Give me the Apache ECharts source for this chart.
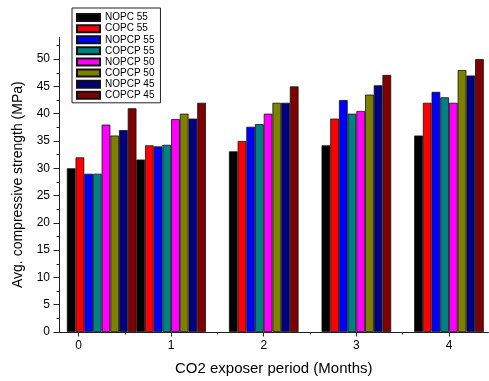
<!DOCTYPE html>
<html>
<head>
<meta charset="utf-8">
<script src="https://cdn.jsdelivr.net/npm/echarts@6/dist/echarts.min.js"></script>
<style>
html,body{margin:0;padding:0;background:#fff;}
#chart{width:489px;height:381px;}
</style>
</head>
<body>
<div id="chart"></div>
<script>
// CO2 exposure period (months); first group sits slightly right of 0 in the source
const periods = [0, 1, 2, 3, 4];
const groupX = [0.25, 1, 2, 3, 4];
const seriesNames = ['NOPC 55', 'COPC 55', 'NOPCP 55', 'COPCP 55', 'NOPCP 50', 'COPCP 50', 'NOPCP 45', 'COPCP 45'];
const nopc55  = [30.0, 31.6, 33.1, 34.2, 36.0];
const copc55  = [32.0, 34.2, 35.0, 39.1, 42.0];
const nopcp55 = [29.0, 34.0, 37.6, 42.5, 44.0];
const copcp55 = [29.0, 34.3, 38.1, 40.0, 43.0];
const nopcp50 = [38.0, 39.0, 40.0, 40.5, 42.0];
const copcp50 = [36.0, 40.0, 42.0, 43.5, 48.0];
const nopcp45 = [37.0, 39.1, 42.0, 45.2, 47.0];
const copcp45 = [41.0, 42.0, 45.0, 47.1, 50.0];
const yTicks = [0, 5, 10, 15, 20, 25, 30, 35, 40, 45, 50];
const yMinorTicks = [2.5, 7.5, 12.5, 17.5, 22.5, 27.5, 32.5, 37.5, 42.5, 47.5, 52.5];
const xMinorTicks = [0.5, 1.5, 2.5, 3.5];

const allValues = [nopc55, copc55, nopcp55, copcp55, nopcp50, copcp50, nopcp45, copcp45];
const colors = ['#000000', '#ff0000', '#0000ff', '#008080', '#ff00ff', '#808000', '#000080', '#800000'];

const FONT = 'Liberation Sans, Arial, sans-serif';
const X_MIN = -0.2106, X_MAX = 4.4266;

const series = allValues.map((vals, i) => ({
  name: seriesNames[i],
  type: 'bar',
  xAxisIndex: 0,
  yAxisIndex: 0,
  barWidth: 8.7,
  barGap: '0%',
  data: vals.map((v, j) => [groupX[j], v]),
  itemStyle: { color: colors[i], borderColor: '#111', borderWidth: 0.8 },
  emphasis: { disabled: true },
  animation: false
}));

const chart = echarts.init(document.getElementById('chart'), null, { renderer: 'canvas' });
chart.setOption({
  animation: false,
  backgroundColor: '#ffffff',
  textStyle: { fontFamily: FONT },
  grid: { left: 59, right: 0.5, top: 37.3, bottom: 46.5, containLabel: false },
  legend: {
    orient: 'vertical',
    left: 72, top: 8,
    padding: [4, 6, 2, 4],
    borderColor: '#222', borderWidth: 1,
    itemWidth: 23, itemHeight: 7, itemGap: 0,
    icon: 'rect',
    textStyle: { fontFamily: FONT, fontSize: 10, color: '#000', lineHeight: 11.1 },
    data: seriesNames
  },
  xAxis: [{
    type: 'value', min: X_MIN, max: X_MAX, position: 'bottom',
    name: 'CO2 exposer period (Months)', nameLocation: 'middle', nameGap: 29,
    nameTextStyle: { fontFamily: FONT, fontSize: 15, color: '#000' },
    axisLine: { show: true, onZero: false, lineStyle: { color: '#222', width: 1 } },
    axisTick: { show: true, length: 4.5, customValues: periods, lineStyle: { color: '#222' } },
    axisLabel: { show: true, customValues: periods, fontFamily: FONT, fontSize: 12, color: '#000', margin: 8 },
    splitLine: { show: false }
  }, {
    type: 'value', min: X_MIN, max: X_MAX, position: 'bottom',
    axisLine: { show: false, onZero: false },
    axisTick: { show: true, length: 2.5, customValues: xMinorTicks, lineStyle: { color: '#222' } },
    axisLabel: { show: false },
    splitLine: { show: false }
  }],
  yAxis: [{
    type: 'value', min: 0, max: 54, interval: 5, position: 'left',
    name: 'Avg. compressive strength (MPa)', nameLocation: 'middle', nameGap: 34,
    nameTextStyle: { fontFamily: FONT, fontSize: 14, color: '#000' },
    axisLine: { show: true, onZero: false, lineStyle: { color: '#222', width: 1 } },
    axisTick: { show: true, length: 5.5, customValues: yTicks, lineStyle: { color: '#222' } },
    axisLabel: { show: true, customValues: yTicks, fontFamily: FONT, fontSize: 12, color: '#000', margin: 9 },
    splitLine: { show: false }
  }, {
    type: 'value', min: 0, max: 54, position: 'left',
    axisLine: { show: false, onZero: false },
    axisTick: { show: true, length: 2.5, customValues: yMinorTicks, lineStyle: { color: '#222' } },
    axisLabel: { show: false },
    splitLine: { show: false }
  }],
  series: series
});
</script>
</body>
</html>
